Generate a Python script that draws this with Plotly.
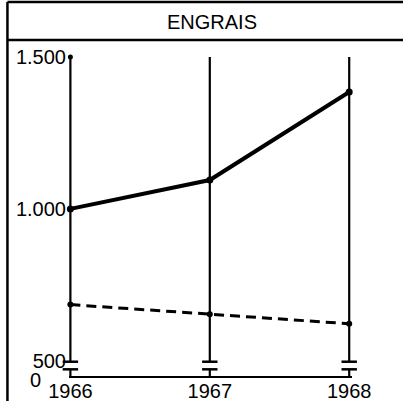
import plotly.graph_objects as go

YEARS = [1966, 1967, 1968]
YEAR_LABELS = ["1966", "1967", "1968"]
SOLID = [1000, 1095, 1385]
DASHED = [685, 653, 622]
Y_TICKS = [500, 1000, 1500]
Y_TICK_TEXT = ["500", "1.000", "1.500"]
ZERO_LABEL = "0"
TITLE = "ENGRAIS"

Y_MIN, Y_TOP = 450, 1500
BREAK_HI, BREAK_LO = 497, 472
X_PAD_L, X_PAD_R = 0.01, 0.02

FONT = "Liberation Sans, Arial, sans-serif"
FS = 20

fig = go.Figure()

# vertical year axes with a break near the bottom
vx, vy = [], []
for yr in YEARS:
    vx += [yr, yr, None, yr, yr, None]
    vy += [Y_TOP, BREAK_HI, None, BREAK_LO, Y_MIN, None]
fig.add_trace(go.Scatter(x=vx, y=vy, mode="lines", line=dict(color="black", width=2.2),
                         hoverinfo="skip", cliponaxis=False, showlegend=False))
# break bars
fig.add_trace(go.Scatter(x=YEARS * 2, y=[BREAK_HI] * 3 + [BREAK_LO] * 3, mode="markers",
                         marker=dict(symbol="line-ew", size=11, line=dict(color="black", width=2.5)),
                         hoverinfo="skip", cliponaxis=False, showlegend=False))
# small dot at top of first axis
fig.add_trace(go.Scatter(x=YEARS[:1], y=[Y_TOP], mode="markers",
                         marker=dict(color="black", size=5),
                         hoverinfo="skip", cliponaxis=False, showlegend=False))

fig.add_trace(go.Scatter(x=YEARS, y=DASHED, mode="lines+markers",
                         line=dict(color="black", width=3, dash="10px,6px"),
                         marker=dict(color="black", size=6),
                         cliponaxis=False, showlegend=False))
fig.add_trace(go.Scatter(x=YEARS, y=SOLID, mode="lines+markers",
                         line=dict(color="black", width=4),
                         marker=dict(color="black", size=7),
                         cliponaxis=False, showlegend=False))

# pixel layout: first year at x=70, last at x=349
X0, X1 = 70, 349
ppy = (X1 - X0) / (YEARS[-1] - YEARS[0])
L = X0 - X_PAD_L * ppy
R = X1 + X_PAD_R * ppy
T, B = 57, 376
W, H = 403, 401
def px(x):
    return (x - L) / (R - L)
def py(y):
    return (B - y) / (B - T)

shapes = [
    dict(type="line", xref="paper", yref="paper", x0=px(7), x1=px(7), y0=py(2), y1=py(H + 5),
         line=dict(color="black", width=2.5)),
    dict(type="line", xref="paper", yref="paper", x0=px(7), x1=px(W + 5), y0=py(2), y1=py(2),
         line=dict(color="black", width=2.5)),
    dict(type="line", xref="paper", yref="paper", x0=px(7), x1=px(W + 5), y0=py(40), y1=py(40),
         line=dict(color="black", width=2.5)),
]

fig.update_layout(
    width=W, height=H,
    margin=dict(l=L, r=W - R, t=T, b=H - B, pad=0),
    paper_bgcolor="white", plot_bgcolor="white",
    font=dict(family=FONT, size=FS, color="black"),
    title=dict(text=TITLE, x=212 / W, xanchor="center", xref="container",
               y=1 - 22 / H, yanchor="middle", yref="container",
               font=dict(family=FONT, size=FS, color="black")),
    shapes=shapes,
    annotations=[dict(text=ZERO_LABEL, x=YEARS[0], y=Y_MIN, xref="x", yref="y",
                      xanchor="right", yanchor="middle", xshift=-27, yshift=-4,
                      showarrow=False, font=dict(family=FONT, size=FS, color="black"))],
    xaxis=dict(range=[YEARS[0] - X_PAD_L, YEARS[-1] + X_PAD_R], tickvals=YEARS, ticktext=YEAR_LABELS,
               showgrid=False, zeroline=False, showline=True, linecolor="black", linewidth=2,
               ticks="", automargin=False, ticklabelstandoff=-4,
               tickfont=dict(family=FONT, size=FS, color="black")),
    yaxis=dict(range=[Y_MIN, Y_TOP], tickvals=Y_TICKS, ticktext=Y_TICK_TEXT,
               showgrid=False, zeroline=False, showline=False, ticks="",
               automargin=False, ticklabelstandoff=2,
               tickfont=dict(family=FONT, size=FS, color="black")),
)

fig.write_html("out.html", config={"displayModeBar": False},
               post_script="document.body.style.margin='0';document.body.style.overflow='hidden';")
